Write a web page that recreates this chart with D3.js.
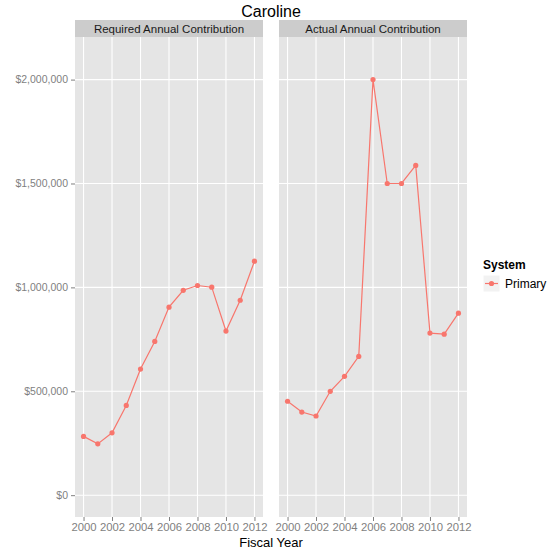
<!DOCTYPE html>
<html>
<head>
<meta charset="UTF-8">
<script src="https://d3js.org/d3.v7.min.js"></script>
<style>
  body { margin: 0; background: #fff; font-family: "Liberation Sans", Arial, sans-serif; }
</style>
</head>
<body>
<div id="chart"></div>
<script>
  // values
  const years = [2000, 2001, 2002, 2003, 2004, 2005, 2006, 2007, 2008, 2009, 2010, 2011, 2012];
  const required = [283000, 247000, 300000, 432000, 607000, 740000, 905000, 986000, 1009000, 1001000, 790000, 938000, 1126000];
  const actual = [452000, 400000, 381000, 500000, 572000, 668000, 2000000, 1500000, 1500000, 1587000, 780000, 775000, 876000];
  const panelTitles = ["Required Annual Contribution", "Actual Annual Contribution"];
  const xTicks = [2000, 2002, 2004, 2006, 2008, 2010, 2012];
  const yTicks = [0, 500000, 1000000, 1500000, 2000000];

  const width = 557, height = 555;
  const color = "#F8766D";
  const svg = d3.select("#chart").append("svg")
      .attr("width", width).attr("height", height);

  const panels = [
    { title: panelTitles[0], values: required, left: 75, right: 263 },
    { title: panelTitles[1], values: actual, left: 279, right: 467 }
  ];
  const stripTop = 20, panelTop = 37, panelBottom = 517;

  const y = d3.scaleLinear().domain([-105000, 2205000]).range([panelBottom, panelTop]);
  const fmt = d => "$" + d3.format(",")(d);

  panels.forEach((p, i) => {
    const x = d3.scaleLinear().domain([1999.4, 2012.6]).range([p.left, p.right]);
    const g = svg.append("g");

    // strip
    g.append("rect").attr("x", p.left).attr("y", stripTop)
      .attr("width", p.right - p.left).attr("height", panelTop - stripTop)
      .attr("fill", "#cccccc");
    g.append("text").attr("x", (p.left + p.right) / 2).attr("y", (stripTop + panelTop) / 2 + 4)
      .attr("text-anchor", "middle").attr("font-size", 11.5).attr("fill", "#1a1a1a")
      .text(p.title);

    // panel background
    g.append("rect").attr("x", p.left).attr("y", panelTop)
      .attr("width", p.right - p.left).attr("height", panelBottom - panelTop)
      .attr("fill", "#e5e5e5");

    // grid
    g.selectAll(".gx").data(xTicks).enter().append("line")
      .attr("x1", d => x(d)).attr("x2", d => x(d))
      .attr("y1", panelTop).attr("y2", panelBottom)
      .attr("stroke", "#fff").attr("stroke-width", 1.1);
    g.selectAll(".gy").data(yTicks).enter().append("line")
      .attr("x1", p.left).attr("x2", p.right)
      .attr("y1", d => y(d)).attr("y2", d => y(d))
      .attr("stroke", "#fff").attr("stroke-width", 1.1);

    // x axis
    const xa = g.append("g").attr("transform", `translate(0,${panelBottom})`)
      .call(d3.axisBottom(x).tickValues(xTicks).tickFormat(d3.format("d")).tickSize(4).tickPadding(2));
    xa.select(".domain").remove();
    xa.selectAll("line").attr("stroke", "#7f7f7f");
    xa.selectAll("text").attr("fill", "#7f7f7f").attr("font-size", 11.3)
      .attr("font-family", "'Liberation Sans', Arial, sans-serif");

    if (i === 0) {
      const ya = g.append("g").attr("transform", `translate(${p.left},0)`)
        .call(d3.axisLeft(y).tickValues(yTicks).tickFormat(fmt).tickSize(4).tickPadding(3));
      ya.select(".domain").remove();
      ya.selectAll("line").attr("stroke", "#7f7f7f");
      ya.selectAll("text").attr("fill", "#7f7f7f").attr("font-size", 10.5)
        .attr("font-family", "'Liberation Sans', Arial, sans-serif");
    }

    const pts = years.map((yr, k) => ({ yr, v: p.values[k] }));
    g.append("path").datum(pts)
      .attr("fill", "none").attr("stroke", color).attr("stroke-width", 1.2)
      .attr("d", d3.line().x(d => x(d.yr)).y(d => y(d.v)));
    g.selectAll(".pt").data(pts).enter().append("circle")
      .attr("cx", d => x(d.yr)).attr("cy", d => y(d.v)).attr("r", 2.6)
      .attr("fill", color);
  });

  // title
  svg.append("text").attr("x", 271).attr("y", 17).attr("text-anchor", "middle")
    .attr("font-size", 16).attr("fill", "#000").text("Caroline");

  // x label
  svg.append("text").attr("x", 271).attr("y", 547).attr("text-anchor", "middle")
    .attr("font-size", 13).attr("fill", "#000").text("Fiscal Year");

  // legend
  const lg = svg.append("g");
  lg.append("text").attr("x", 483).attr("y", 269).attr("font-size", 12)
    .attr("font-weight", "bold").text("System");
  lg.append("rect").attr("x", 483).attr("y", 275).attr("width", 17).attr("height", 17)
    .attr("fill", "#f2f2f2").attr("stroke", "#fff");
  lg.append("line").attr("x1", 485).attr("x2", 498).attr("y1", 283.5).attr("y2", 283.5)
    .attr("stroke", color).attr("stroke-width", 1.2);
  lg.append("circle").attr("cx", 491.5).attr("cy", 283.5).attr("r", 2.6).attr("fill", color);
  lg.append("text").attr("x", 505).attr("y", 288).attr("font-size", 12).text("Primary");
</script>
</body>
</html>
